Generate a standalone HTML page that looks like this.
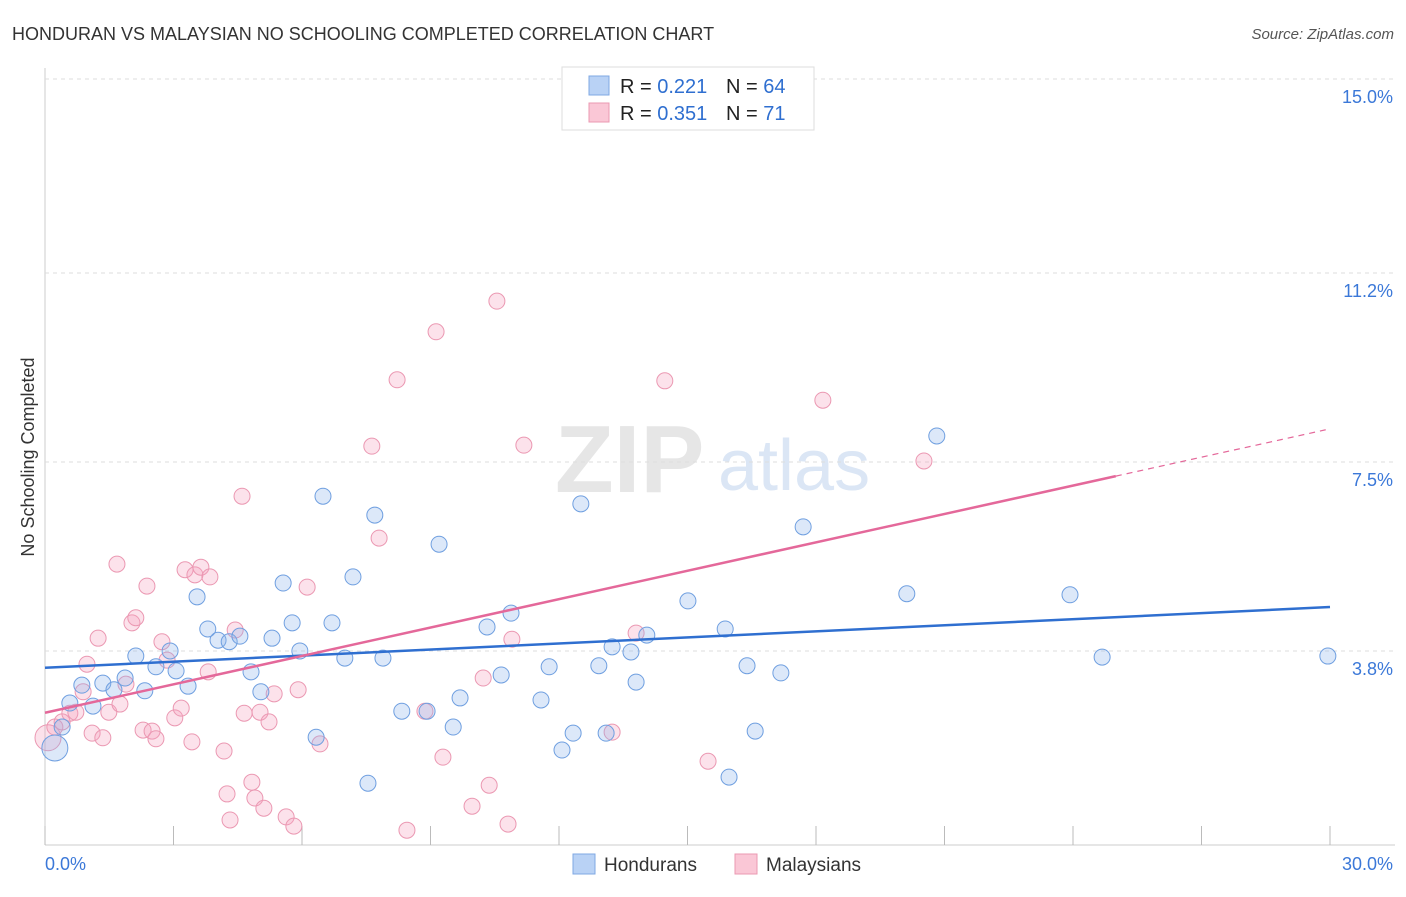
<!DOCTYPE html>
<html><head><meta charset="utf-8"><style>
body{margin:0;background:#fff;font-family:"Liberation Sans",sans-serif;}
svg text{font-family:"Liberation Sans",sans-serif;}
</style></head><body>
<svg id="chart" width="1406" height="892">
<text x="12" y="40" font-size="18" fill="#333">HONDURAN VS MALAYSIAN NO SCHOOLING COMPLETED CORRELATION CHART</text>
<text x="1394" y="39" font-size="15" fill="#555" font-style="italic" text-anchor="end">Source: ZipAtlas.com</text>
<text x="34" y="457" font-size="18" fill="#333" text-anchor="middle" transform="rotate(-90 34 457)">No Schooling Completed</text>
<g><text x="555" y="492" font-size="96" fill="#e6e6e6" font-family="Liberation Serif,serif" font-weight="bold">ZIP</text><text x="718" y="490" font-size="72" fill="#dbe6f5">atlas</text></g>
<g id="grid"></g><g id="pts"></g><g id="trend"></g>
<g>
<rect x="562" y="67" width="252" height="63" fill="#fff" stroke="#ddd"/>
<rect x="589" y="76" width="20" height="19" fill="#b9d2f5" stroke="#7fa8e3"/>
<rect x="589" y="103" width="20" height="19" fill="#fac7d6" stroke="#eb98b2"/>
<text x="620" y="93" font-size="20" fill="#222">R = <tspan fill="#2f6fd0">0.221</tspan></text>
<text x="726" y="93" font-size="20" fill="#222">N = <tspan fill="#2f6fd0">64</tspan></text>
<text x="620" y="120" font-size="20" fill="#222">R = <tspan fill="#2f6fd0">0.351</tspan></text>
<text x="726" y="120" font-size="20" fill="#222">N = <tspan fill="#2f6fd0"> 71</tspan></text>
</g>
<g>
<rect x="573" y="854" width="22" height="20" fill="#b9d2f5" stroke="#7fa8e3"/>
<text x="604" y="871" font-size="19" fill="#333">Hondurans</text>
<rect x="735" y="854" width="22" height="20" fill="#fac7d6" stroke="#eb98b2"/>
<text x="766" y="871" font-size="19" fill="#333">Malaysians</text>
</g>
</svg>
<script>
const yTicks=[15.0,11.2,7.5,3.8];
const yTickLabels=["15.0%","11.2%","7.5%","3.8%"];
const xTickLabels=["0.0%","30.0%"];
const hondX=[0.23,0.40,0.58,0.86,1.12,1.35,1.61,1.87,2.12,2.33,2.59,2.92,3.06,3.34,3.55,3.80,4.04,4.30,4.55,4.81,5.04,5.30,5.56,5.77,5.95,6.33,6.49,6.70,7.00,7.19,7.54,7.70,7.89,8.33,8.92,9.20,9.53,9.69,10.32,10.65,10.88,11.58,11.77,12.07,12.33,12.51,12.93,13.10,13.24,13.68,13.80,14.05,15.01,15.88,15.97,16.39,16.58,17.18,17.70,20.12,20.82,23.93,24.68,29.95];
const hondY=[1.90,2.31,2.78,3.13,2.72,3.17,3.04,3.27,3.70,3.02,3.49,3.80,3.41,3.11,4.86,4.23,4.01,3.98,4.09,3.39,3.00,4.05,5.13,4.35,3.80,2.11,6.83,4.35,3.66,5.25,1.21,6.46,3.66,2.62,2.62,5.89,2.31,2.88,4.27,3.33,4.54,2.84,3.49,1.86,2.19,6.68,3.51,2.19,3.88,3.78,3.19,4.11,4.78,4.23,1.33,3.51,2.23,3.37,6.23,4.92,8.01,4.90,3.68,3.70];
const malX=[0.07,0.23,0.40,0.58,0.72,0.89,0.98,1.10,1.24,1.35,1.49,1.68,1.75,1.89,2.03,2.12,2.29,2.38,2.50,2.59,2.73,2.85,3.03,3.18,3.27,3.43,3.50,3.64,3.81,3.85,4.18,4.25,4.32,4.44,4.60,4.65,4.83,4.90,5.02,5.11,5.23,5.35,5.63,5.81,5.91,6.12,6.42,7.63,7.80,8.22,8.45,8.87,9.13,9.29,9.97,10.23,10.37,10.55,10.81,10.90,11.18,13.24,13.80,14.47,15.48,18.16,20.52];
const malY=[2.10,2.31,2.41,2.58,2.60,3.00,3.54,2.19,4.05,2.10,2.60,5.50,2.76,3.15,4.35,4.45,2.25,5.07,2.23,2.08,3.98,3.62,2.49,2.68,5.39,2.02,5.29,5.44,3.39,5.25,1.84,1.00,0.49,4.21,6.83,2.58,1.23,0.92,2.60,0.72,2.41,2.96,0.55,0.37,3.04,5.05,1.98,7.81,6.01,9.11,0.29,2.62,10.05,1.72,0.76,3.27,1.17,10.65,0.41,4.03,7.83,2.21,4.15,9.09,1.64,8.71,7.52];
const hondTrend=[3.47,4.66];
const malTrend=[2.59,8.15];
const X=v=>45+v*1285/30, Y=v=>845-v*766/15;
const ns="http://www.w3.org/2000/svg";
function mk(p,t,a){const e=document.createElementNS(ns,t);for(const k in a)e.setAttribute(k,a[k]);p.appendChild(e);return e;}
const grid=document.getElementById('grid');
mk(grid,'line',{x1:45,y1:68,x2:45,y2:845,stroke:'#ccc'});
mk(grid,'line',{x1:45,y1:845,x2:1395,y2:845,stroke:'#ccc'});
yTicks.forEach((t,i)=>{
 const l=mk(grid,'line',{x1:45,y1:Y(t),x2:1395,y2:Y(t),stroke:'#ddd','stroke-dasharray':'4 4'});
 
 
 const tx=mk(grid,'text',{x:1393,y:Y(t)+24,'font-size':18,fill:'#3b78d8','text-anchor':'end'});
 tx.textContent=yTickLabels[i];
 
 
});
for(let k=0;k<=10;k++){const x=X(k*3);const l=mk(grid,'line',{x1:x,y1:826,x2:x,y2:845,stroke:'#bbb'});
 
 }
[[0,45,'start'],[30,1393,'end']].forEach((d,i)=>{const t=mk(grid,'text',{x:d[1],y:870,'font-size':18,fill:'#3b78d8','text-anchor':d[2]});t.textContent=xTickLabels[i];
 
 });
const pts=document.getElementById('pts');
malX.forEach((x,i)=>{const c=mk(pts,'circle',{cx:X(x),cy:Y(malY[i]),r:i==0?13:8,fill:'rgba(245,160,190,0.3)',stroke:'#eb98b2','stroke-width':1});
 
 });
hondX.forEach((x,i)=>{const c=mk(pts,'circle',{cx:X(x),cy:Y(hondY[i]),r:i==0?13:8,fill:'rgba(140,180,235,0.3)',stroke:'#6f9fe0','stroke-width':1});
 
 });
const tr=document.getElementById('trend');
const bl=mk(tr,'line',{x1:X(0),y1:Y(hondTrend[0]),x2:X(30),y2:Y(hondTrend[1]),stroke:'#2f6fd0','stroke-width':2.5});


const mAt=x=>malTrend[0]+(malTrend[1]-malTrend[0])*x/30;
const pl=mk(tr,'line',{x1:X(0),y1:Y(mAt(0)),x2:X(25),y2:Y(mAt(25)),stroke:'#e4689a','stroke-width':2.5});


const pd=mk(tr,'line',{x1:X(25),y1:Y(mAt(25)),x2:X(29.9),y2:Y(mAt(29.9)),stroke:'#e4689a','stroke-width':1.2,'stroke-dasharray':'6 5'});


</script>
</body></html>
